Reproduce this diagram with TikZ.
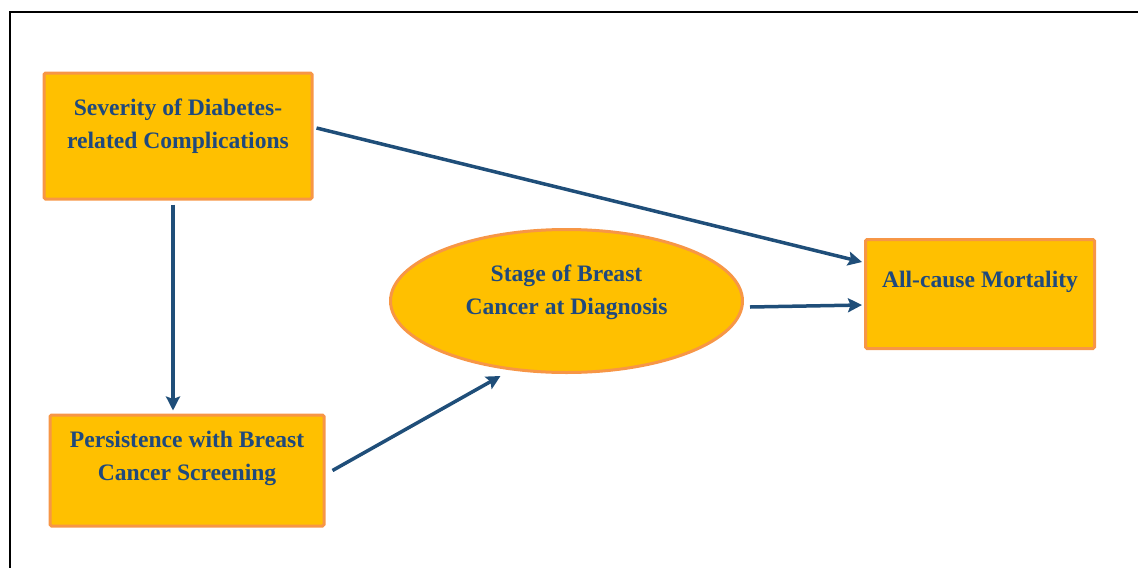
\documentclass[tikz,border=0pt]{standalone}
\usepackage{fontspec}
\setmainfont{Liberation Serif}
\usetikzlibrary{arrows.meta,calc,shapes.geometric}
\definecolor{boxfill}{HTML}{FFC000}
\definecolor{boxline}{HTML}{F79646}
\definecolor{navy}{HTML}{1F497D}
\definecolor{arrowblue}{HTML}{1F4E79}
\tikzset{
  box/.style={draw=boxline, fill=boxfill, line width=3, rounded corners=1.5, inner sep=0},
  oval/.style={ellipse, draw=boxline, fill=boxfill, line width=3, inner sep=0},
  txt/.style={text=navy, font=\bfseries\fontsize{23.6}{33}\selectfont, align=center, inner sep=0},
  link/.style={draw=arrowblue, line width=3.5, -{Stealth[length=14,width=14,inset=2.5]}},
  frame/.style={draw=black, line width=2}
}
\begin{document}
\begin{tikzpicture}[x=1pt,y=-1pt]
  \useasboundingbox (0,0) rectangle (1138,568);
  % page frame (top and left edges)
  \draw[frame] (1138,12) -- (10,12) -- (10,568);

  % variables
  \node[box, minimum width=268, minimum height=126,
        label={[txt, yshift=10]center:Severity of Diabetes-\\related Complications}]
        (sev) at (178,136) {};
  \node[box, minimum width=274, minimum height=111,
        label={[txt, yshift=12]center:Persistence with Breast\\Cancer Screening}]
        (pers) at (187,470.5) {};
  \node[oval, minimum width=352, minimum height=143,
        label={[txt, yshift=9]center:Stage of Breast\\Cancer at Diagnosis}]
        (stage) at (566.5,301) {};
  \node[box, minimum width=229, minimum height=109,
        label={[txt, yshift=12]center:All-cause Mortality}]
        (mort) at (980,294) {};

  % paths
  \draw[link] ($(sev.east)+(3,-8)$) -- ($(mort.west)+(-2,-32)$);
  \draw[link] ($(sev.south)+(-5,4)$) -- ($(pers.north)+(-14,-3)$);
  \draw[link] ($(pers.east)+(7,0)$) -- ($(stage.south)+(-66,2)$);
  \draw[link] ($(stage.east)+(6,6)$) -- ($(mort.west)+(-2,11)$);
\end{tikzpicture}
\end{document}
